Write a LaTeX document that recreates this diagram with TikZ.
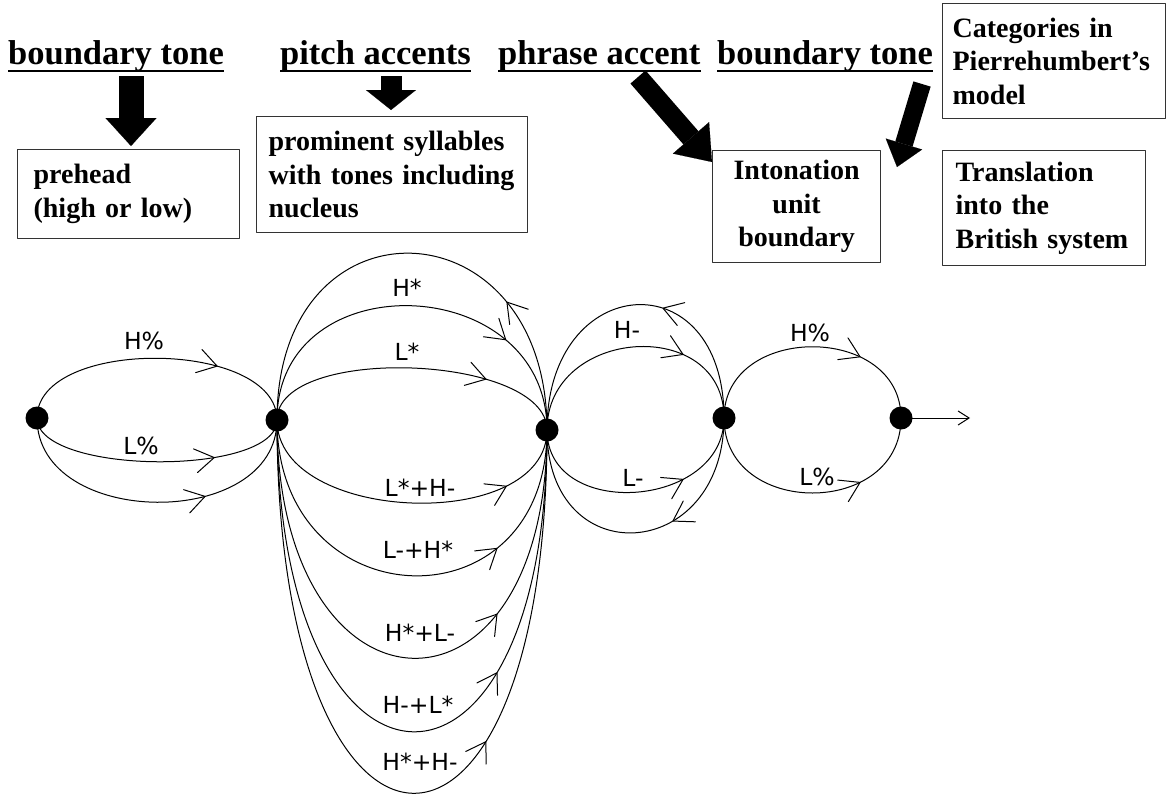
\documentclass[tikz,border=0pt]{standalone}
\usepackage{fontspec}
\setmainfont{Liberation Serif}
\newfontfamily\labelfont{DejaVu Sans}
\usetikzlibrary{arrows.meta}

\tikzset{
  barb/.pic={\draw[line width=1pt, line cap=round] (-19,12) -- (0,0) -- (-19,-12);},
  tipmark/.style={pos=#1, sloped, allow upside down},
  dot/.style={circle, fill=black, inner sep=0pt, minimum size=23pt},
  arcline/.style={line width=1pt},
  lab/.style={font=\labelfont\fontsize{23.5}{28}\selectfont, inner sep=0pt},
  heading/.style={font=\bfseries\fontsize{34.5}{40}\selectfont, inner sep=0pt, anchor=base west},
  box/.style={draw=black!80, line width=1.2pt, font=\bfseries\fontsize{28}{33.5}\selectfont,
              anchor=north west, inner ysep=0pt},
  fat/.style n args={3}{line width=#1, -{Triangle[length=#3, width=#2, line width=0.1pt]}},
}

\begin{document}
\begin{tikzpicture}[x=1pt, y=-1pt, line join=round]
\useasboundingbox (0,0) rectangle (1167,798);

% ---- category headings ----
\node[heading] (h1) at (8,64)   {boundary tone};
\node[heading] (h2) at (280,64) {pitch accents};
\node[heading] (h3) at (498,64) {phrase accent};
\node[heading] (h4) at (717,64) {boundary tone};
\foreach \h in {h1,h2,h3,h4}
  \draw[line width=2.6pt] ([yshift=-7pt]\h.base west) -- ([yshift=-7pt]\h.base east);

% ---- explanation boxes ----
\node[box, minimum width=222pt, minimum height=89pt, text width=190pt, inner xsep=16pt, align=left]
  (pre) at (17,149) {prehead\\(high or low)};
\node[box, minimum width=271pt, minimum height=116pt, text width=247pt, inner xsep=12pt, align=left]
  (prom) at (256,116) {prominent syllables\\with tones including\\nucleus};
\node[box, minimum width=168pt, minimum height=112pt, text width=152pt, inner xsep=8pt, align=center]
  (iub) at (712,150) {Intonation\\unit\\boundary};
\node[box, minimum width=203pt, minimum height=115pt, text width=177pt, inner xsep=13pt, align=left]
  (trans) at (942,150) {Translation\\into the\\British system};
\node[box, minimum width=223pt, minimum height=115pt, text width=203pt, inner xsep=10pt, align=left]
  (cat) at (942,3) {Categories in\\Pierrehumbert’s\\model};

% ---- block arrows from headings to boxes ----
\coordinate (a1s) at (131,76);  \coordinate (a1t) at (131,146);
\coordinate (a2s) at (391,76);  \coordinate (a2t) at (391,110);
\coordinate (a3s) at (638,77);  \coordinate (a3t) at (712,162);
\coordinate (a4s) at (922,84);  \coordinate (a4t) at (897,167);
\draw[fat={25pt}{51pt}{28pt}] (a1s) -- (a1t);
\draw[fat={21pt}{50pt}{20pt}] (a2s) -- (a2t);
\draw[fat={20pt}{48pt}{32pt}] (a3s) -- (a3t);
\draw[fat={18pt}{38pt}{24pt}] (a4s) -- (a4t);

% ---- states ----
\coordinate (A) at (37,418);
\coordinate (B) at (277,420);
\coordinate (C) at (547,430);
\coordinate (D) at (724,418);
\coordinate (E) at (901,418);
\coordinate (out) at (970,418);

% boundary tone: A -> B
\draw[arcline] (A) .. controls +(0,-81) and +(0,-81) .. (B) pic[tipmark=.674]{barb};
\draw[arcline] (A) .. controls +(0,57) and +(0,57) .. (B) pic[tipmark=.665]{barb};
\draw[arcline] (A) .. controls +(0,111) and +(0,111) .. (B) pic[tipmark=.637]{barb};

% pitch accents: B -> C, with the loop back C -> B
\draw[arcline] (C) .. controls +(0,-229) and +(0,-229) .. (B) pic[tipmark=.243]{barb};
\draw[arcline] (B) .. controls +(0,-159) and +(0,-159) .. (C) pic[tipmark=.753]{barb};
\draw[arcline] (B) .. controls +(0,-76) and +(0,-76) .. (C) pic[tipmark=.692]{barb};
\draw[arcline] (B) .. controls +(0,104) and +(0,104) .. (C) pic[tipmark=.755]{barb};
\draw[arcline] (B) .. controls +(0,201) and +(0,201) .. (C) pic[tipmark=.725]{barb};
\draw[arcline] (B) .. controls +(0,311) and +(0,311) .. (C) pic[tipmark=.725]{barb};
\draw[arcline] (B) .. controls +(0,409) and +(0,409) .. (C) pic[tipmark=.725]{barb};
\draw[arcline] (B) .. controls +(0,491) and +(0,491) .. (C) pic[tipmark=.692]{barb};

% phrase accent: C -> D, with loops back D -> C
\draw[arcline] (C) .. controls +(0,-103) and +(0,-103) .. (D) pic[tipmark=.688]{barb};
\draw[arcline] (D) .. controls +(0,-159) and +(0,-159) .. (C) pic[tipmark=.395]{barb};
\draw[arcline] (C) .. controls +(0,91) and +(0,91) .. (D) pic[tipmark=.688]{barb};
\draw[arcline] (D) .. controls +(0,145) and +(0,145) .. (C) pic[tipmark=.355]{barb};

% final boundary tone: D -> E
\draw[arcline] (D) .. controls +(0,-95) and +(0,-95) .. (E) pic[tipmark=.688]{barb};
\draw[arcline] (D) .. controls +(0,100) and +(0,100) .. (E) pic[tipmark=.688]{barb};
\draw[arcline, -{Straight Barb[length=11pt, width=14pt]}] (E) -- (out);

\foreach \s in {A,B,C,D,E}
  \node[dot] (dot\s) at (\s) {};

% ---- tone labels ----
\node[lab] (lHa)   at (144,341) {H\%};
\node[lab] (lLa)   at (141,446) {L\%};
\node[lab] (lHs)   at (407,288) {H*};
\node[lab] (lLs)   at (407,352) {L*};
\node[lab] (lLsHm) at (420,488) {L*+H-};
\node[lab] (lLmHs) at (418,550) {L-+H*};
\node[lab] (lHsLm) at (420,633) {H*+L-};
\node[lab] (lHmLs) at (418,705) {H-+L*};
\node[lab] (lHsHm) at (420,762) {H*+H-};
\node[lab] (lHm)   at (627,330) {H-};
\node[lab] (lLm)   at (633,478) {L-};
\node[lab] (lHb)   at (810,333) {H\%};
\node[lab] (lLb)   at (817,477) {L\%};
\end{tikzpicture}
\end{document}
